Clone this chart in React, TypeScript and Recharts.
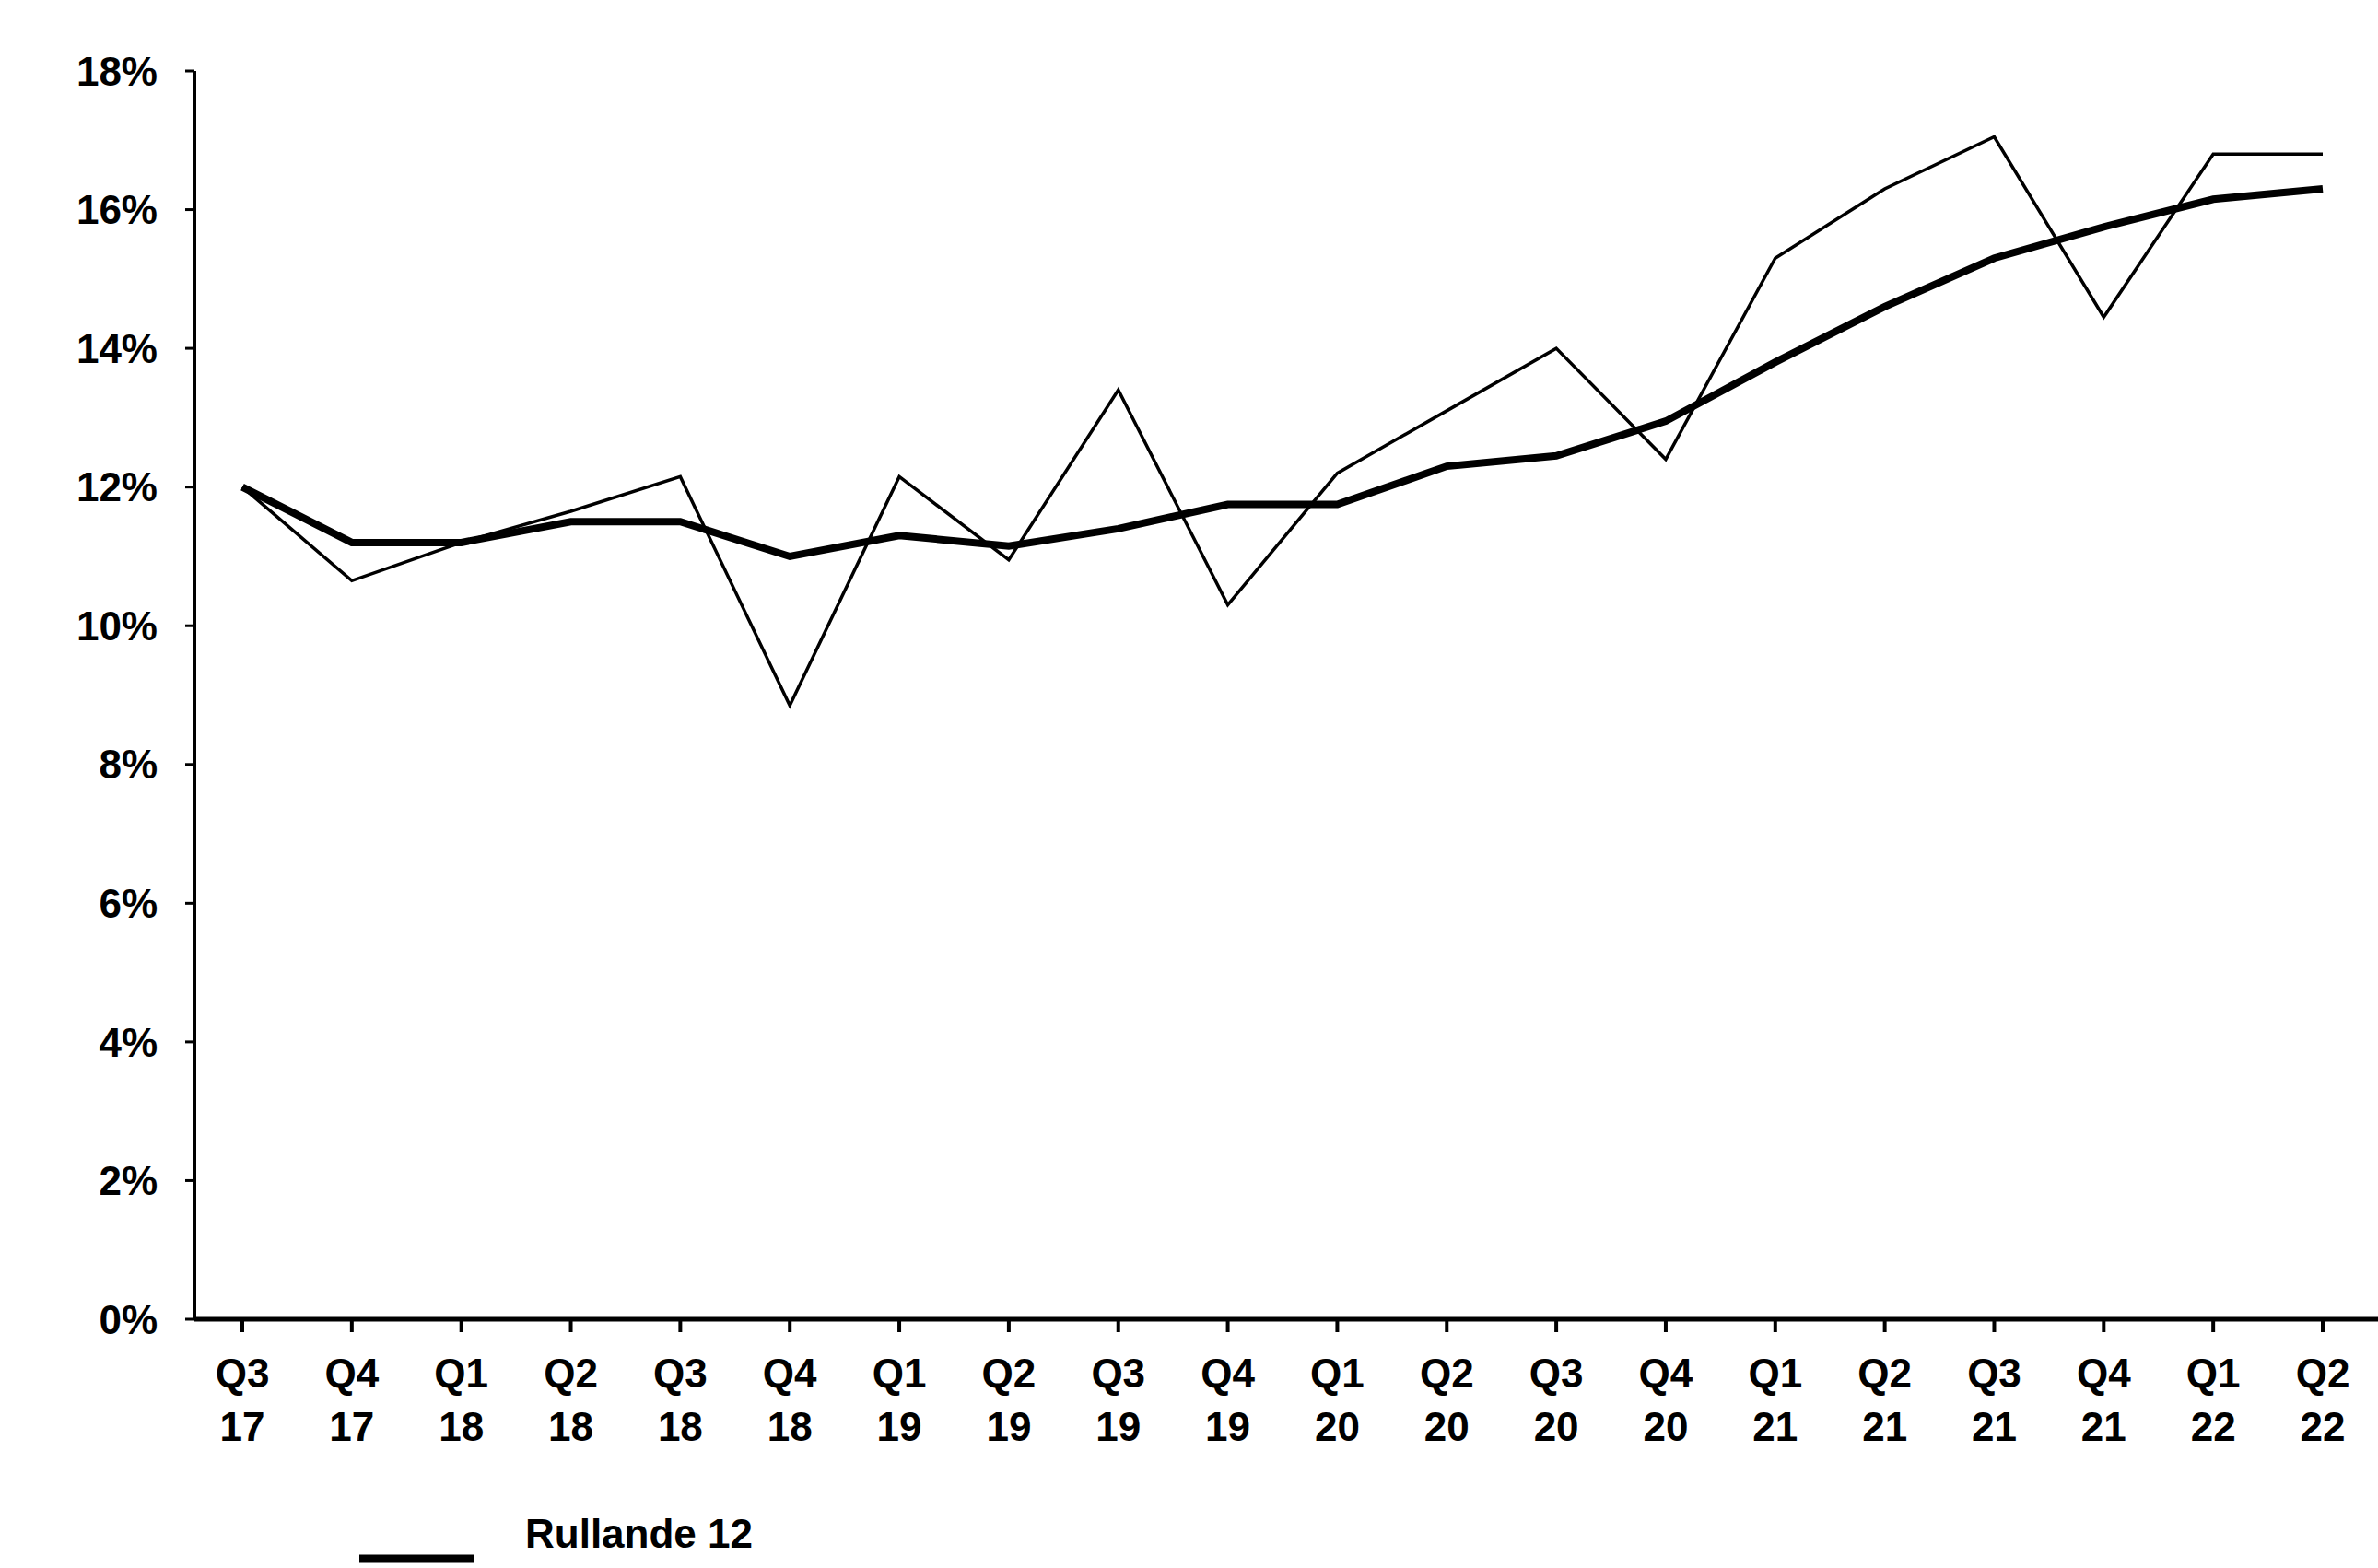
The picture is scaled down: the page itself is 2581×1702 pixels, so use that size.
import React from 'react';
import { LineChart, Line, XAxis, YAxis, Legend } from 'recharts';

const quarters = ['Q3 17','Q4 17','Q1 18','Q2 18','Q3 18','Q4 18','Q1 19','Q2 19','Q3 19','Q4 19','Q1 20','Q2 20','Q3 20','Q4 20','Q1 21','Q2 21','Q3 21','Q4 21','Q1 22','Q2 22'];
const quarterly = [12.0,10.65,11.2,11.65,12.15,8.85,12.15,10.95,13.4,10.3,12.2,13.1,14.0,12.4,15.3,16.3,17.05,14.45,16.8,16.8];
const rolling12 = [12.0,11.2,11.2,11.5,11.5,11.0,11.3,11.15,11.4,11.75,11.75,12.3,12.45,12.95,13.8,14.6,15.3,15.75,16.15,16.3];
const yTicks = [0,2,4,6,8,10,12,14,16,18];

const data = quarters.map((q, i) => ({ q, quarterly: quarterly[i], rolling: rolling12[i] }));

const font = 'Arial, "Liberation Sans", sans-serif';

const XTick = (props: any) => {
  const [a, b] = String(props.payload.value).split(' ');
  return (
    <g transform={`translate(${props.x},${props.y})`}>
      <text textAnchor="middle" fontFamily={font} fontWeight="bold" fontSize={44} fill="#000">
        <tspan x={0} dy={58}>{a}</tspan>
        <tspan x={0} dy={58}>{b}</tspan>
      </text>
    </g>
  );
};

const LegendContent = () => (
  <div style={{ position: 'relative', height: 80 }}>
    <svg width={700} height={80} style={{ position: 'absolute', left: 380, top: 10 }}>
      <line x1={10} y1={60} x2={135} y2={60} stroke="#000" strokeWidth={9} />
      <text x={190} y={48} fontFamily={font} fontWeight="bold" fontSize={44} fill="#000">Rullande 12</text>
    </svg>
  </div>
);

export default function App() {
  return (
    <div style={{ position: 'absolute', left: 0, top: 0, background: '#fff' }}>
      <LineChart width={2581} height={1702} data={data} margin={{ top: 77, right: 0, bottom: 0, left: 0 }}>
        <XAxis dataKey="q" tick={<XTick />} interval={0} padding={{ left: 52, right: 60 }}
          axisLine={{ stroke: '#000', strokeWidth: 5 }} tickLine={{ stroke: '#000', strokeWidth: 4 }} tickSize={14} height={190} />
        <YAxis domain={[0, 18]} ticks={yTicks} tickFormatter={(v: number) => `${v}%`} width={211}
          axisLine={{ stroke: '#000', strokeWidth: 4 }} tickLine={{ stroke: '#000', strokeWidth: 3 }} tickSize={10}
          tick={{ fontFamily: font, fontWeight: 'bold', fontSize: 44, fill: '#000', dx: -28 }} />
        <Legend verticalAlign="bottom" content={<LegendContent />} />
        <Line dataKey="quarterly" stroke="#000" strokeWidth={3.5} dot={false} isAnimationActive={false} />
        <Line dataKey="rolling" stroke="#000" strokeWidth={8} dot={false} isAnimationActive={false} />
      </LineChart>
    </div>
  );
}
